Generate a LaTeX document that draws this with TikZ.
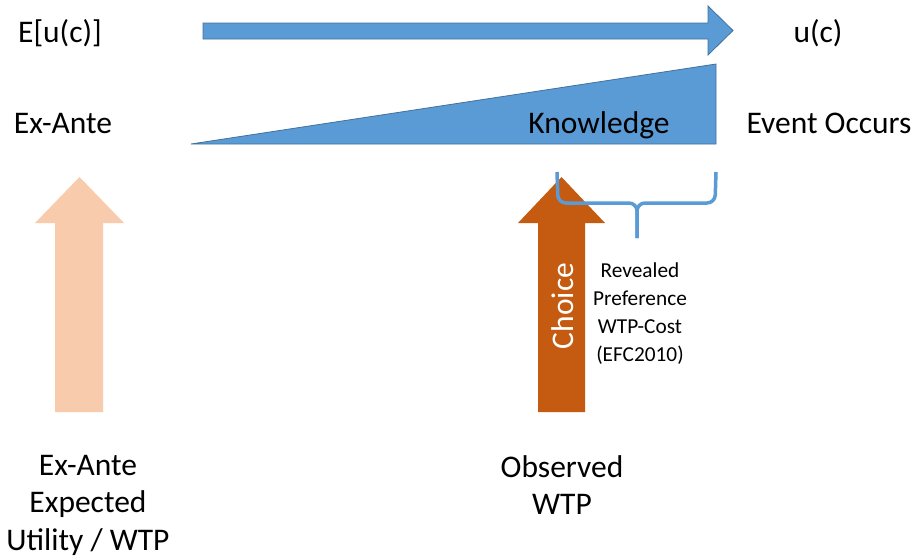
\documentclass[tikz,border=0pt]{standalone}
\usepackage{fontspec}
\setmainfont{Carlito}
\usetikzlibrary{positioning}
\definecolor{timeblue}{HTML}{5B9BD5}
\definecolor{edgeblue}{HTML}{41719C}
\definecolor{choiceorange}{HTML}{C55A11}
\definecolor{paleorange}{HTML}{F8CBAD}

\begin{document}
\begin{tikzpicture}[x=1pt, y=-1pt,
  lbl/.style={font=\fontsize{31.5}{37.5}\selectfont, inner sep=0pt, align=center},
  small/.style={font=\fontsize{21.3}{28}\selectfont, inner sep=0pt, align=center},
  blueshape/.style={draw=edgeblue, fill=timeblue, line width=0.8pt},
  bracket/.style={draw=timeblue, line width=3.5pt, rounded corners=8pt}
]
\useasboundingbox (0,0) rectangle (915,558);

%--- Time arrow and knowledge wedge ---
\path[blueshape] (203,23) -- (708,23) -- (708,6) -- (733,30.5) -- (708,55)
  -- (708,39) -- (203,39) -- cycle;
\path[blueshape] (191,144) -- (716,64) -- (716,144) -- cycle;

%--- Up arrows ---
\fill[paleorange] (55,412) -- (55,223) -- (35,223) -- (79.5,177) -- (124,223)
  -- (103,223) -- (103,412) -- cycle;
\fill[choiceorange] (538,412) -- (538,223) -- (518,223) -- (561.5,177) -- (605,223)
  -- (585,223) -- (585,412) -- cycle;

%--- Brace ---
\draw[bracket] (557,172) -- (558,203) -- (637,203) -- (637,238);
\draw[bracket] (716,172) -- (715,203) -- (637,203) -- (637,238);

%--- Labels ---
\node[lbl, anchor=base] (euc)    at (60,42)   {E[u(c)]};
\node[lbl, anchor=base] (uc)     at (818,42)  {u(c)};
\node[lbl, anchor=base] (exante) at (63,133)  {Ex-Ante};
\node[lbl, anchor=base] (know)   at (599,133) {Knowledge};
\node[lbl, anchor=base] (event)  at (829,133) {Event Occurs};
\node[lbl, white, rotate=90] (choice) at (563,306) {Choice};
\node[small] (revealed) at (640,314) {Revealed\\Preference\\WTP-Cost\\(EFC2010)};
\node[lbl] (utility)  at (88,505)  {Ex-Ante\\Expected\\Utility / WTP};
\node[lbl] (observed) at (562,485) {Observed\\WTP};

\end{tikzpicture}
\end{document}
